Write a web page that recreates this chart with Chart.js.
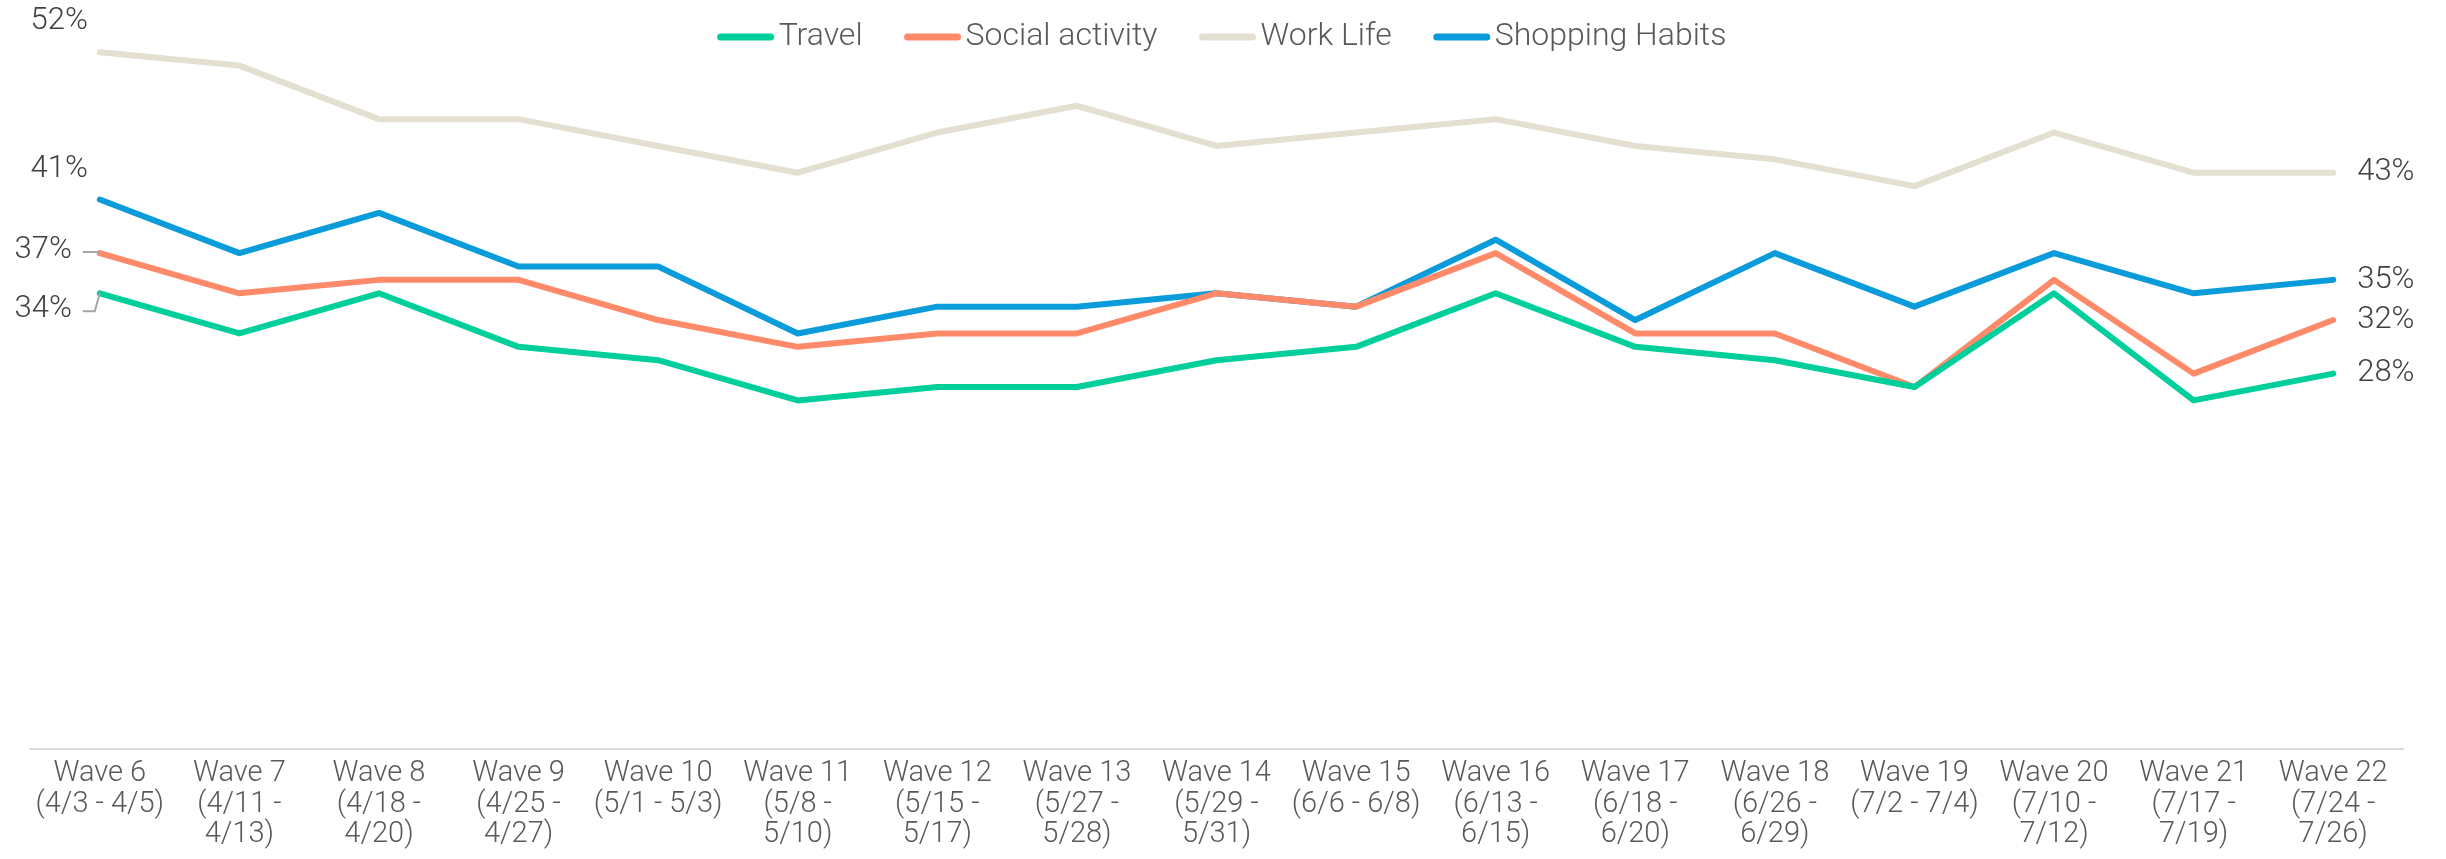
<!DOCTYPE html>
<html>
<head>
<meta charset="utf-8">
<script src="https://cdn.jsdelivr.net/npm/chart.js@4.4.1/dist/chart.umd.min.js"></script>
<style>
  html, body { margin: 0; padding: 0; background: #ffffff; }
  #wrap { width: 2446px; height: 859px; position: relative; }
</style>
</head>
<body>
<div id="wrap"><canvas id="c" width="2446" height="859"></canvas></div>
<script>
// ---- data ----
const waves = ["Wave 6","Wave 7","Wave 8","Wave 9","Wave 10","Wave 11","Wave 12","Wave 13","Wave 14","Wave 15","Wave 16","Wave 17","Wave 18","Wave 19","Wave 20","Wave 21","Wave 22"];
const dateRanges = [
  ["(4/3 - 4/5)"], ["(4/11 -","4/13)"], ["(4/18 -","4/20)"], ["(4/25 -","4/27)"], ["(5/1 - 5/3)"],
  ["(5/8 -","5/10)"], ["(5/15 -","5/17)"], ["(5/27 -","5/28)"], ["(5/29 -","5/31)"], ["(6/6 - 6/8)"],
  ["(6/13 -","6/15)"], ["(6/18 -","6/20)"], ["(6/26 -","6/29)"], ["(7/2 - 7/4)"], ["(7/10 -","7/12)"],
  ["(7/17 -","7/19)"], ["(7/24 -","7/26)"]
];
const seriesNames = ["Travel", "Social activity", "Work Life", "Shopping Habits"];
const travel   = [34,31,34,30,29,26,27,27,29,30,34,30,29,27,34,26,28];
const social   = [37,34,35,35,32,30,31,31,34,33,37,31,31,27,35,28,32];
const workLife = [52,51,47,47,45,43,46,48,45,46,47,45,44,42,46,43,43];
const shopping = [41,37,40,36,36,31,33,33,34,33,38,32,37,33,37,34,35];

const labels = waves.map((w, i) => [w].concat(dateRanges[i]));

const FONT = "Roboto, 'Liberation Sans', Arial, sans-serif";
const colors = ["#00CE9B", "#FF8A6A", "#E3DFD1", "#0A9BDB"];

// label placement for first point of each series (style only)
const firstLabelStyle = [
  { dx: -28, dy: 16, leader: "bent" },
  { dx: -28, dy: -3, leader: "straight" },
  { dx: -12, dy: -31, leader: null },
  { dx: -12, dy: -30, leader: null }
];

const endLabels = {
  id: "endLabels",
  afterDatasetsDraw(chart) {
    const ctx = chart.ctx;
    ctx.save();
    ctx.font = "300 31px " + FONT;
    ctx.fillStyle = "#404040";
    ctx.textBaseline = "middle";
    chart.data.datasets.forEach((ds, di) => {
      const meta = chart.getDatasetMeta(di);
      const first = meta.data[0];
      const last = meta.data[meta.data.length - 1];
      const st = firstLabelStyle[di];
      const fv = ds.data[0] + "%";
      ctx.textAlign = "right";
      ctx.fillText(fv, first.x + st.dx, first.y + st.dy);
      if (st.leader) {
        ctx.strokeStyle = "#A6A6A6";
        ctx.lineWidth = 2;
        ctx.beginPath();
        const ly = first.y + st.dy + 2;
        ctx.moveTo(first.x + st.dx + 11, ly);
        if (st.leader === "bent") {
          ctx.lineTo(first.x - 5, ly);
          ctx.lineTo(first.x, first.y);
        } else {
          ctx.lineTo(first.x - 3, ly);
          ctx.lineTo(first.x, first.y);
        }
        ctx.stroke();
      }
      ctx.textAlign = "left";
      ctx.fillText(ds.data[ds.data.length - 1] + "%", last.x + 24, last.y);
    });
    ctx.restore();
  }
};

const customLegend = {
  id: "customLegend",
  afterDraw(chart) {
    const ctx = chart.ctx;
    ctx.save();
    ctx.font = "300 32px " + FONT;
    ctx.textBaseline = "middle";
    const lineLen = 56, gap = 5, itemGap = 42;
    const items = chart.data.datasets.map(ds => ({ text: ds.label, color: ds.borderColor, w: ctx.measureText(ds.label).width }));
    const total = items.reduce((s, it) => s + lineLen + gap + it.w, 0) + itemGap * (items.length - 1);
    let x = 1222 - total / 2;
    const y = 37;
    items.forEach(it => {
      ctx.strokeStyle = it.color;
      ctx.lineWidth = 7;
      ctx.lineCap = "round";
      ctx.beginPath();
      ctx.moveTo(x + 3, y);
      ctx.lineTo(x + lineLen - 3, y);
      ctx.stroke();
      ctx.fillStyle = "#595959";
      ctx.textAlign = "left";
      ctx.fillText(it.text, x + lineLen + gap, y);
      x += lineLen + gap + it.w + itemGap;
    });
    ctx.restore();
  }
};

const seriesData = [travel, social, workLife, shopping];
const datasets = seriesNames.map((name, i) => ({
  label: name,
  data: seriesData[i],
  borderColor: colors[i],
  backgroundColor: colors[i],
  borderWidth: 6,
  borderCapStyle: "round",
  borderJoinStyle: "round",
  pointRadius: 0,
  pointHoverRadius: 0,
  tension: 0,
  fill: false
}));

new Chart(document.getElementById("c"), {
  type: "line",
  data: { labels: labels, datasets: datasets },
  options: {
    responsive: false,
    animation: false,
    events: [],
    layout: { padding: { left: 30, right: 43, top: 12, bottom: -1 } },
    plugins: {
      legend: { display: false },
      tooltip: { enabled: false }
    },
    scales: {
      x: {
        type: "category",
        offset: true,
        grid: { display: false, drawTicks: false },
        border: { display: true, color: "#D9D9D9", width: 2 },
        ticks: {
          autoSkip: false,
          maxRotation: 0,
          minRotation: 0,
          padding: 10,
          color: "#595959",
          font: { family: FONT, size: 29, weight: "300", lineHeight: 1.05 }
        }
      },
      y: {
        display: false,
        min: 0,
        max: 55
      }
    }
  },
  plugins: [endLabels, customLegend]
});
</script>
</body>
</html>
